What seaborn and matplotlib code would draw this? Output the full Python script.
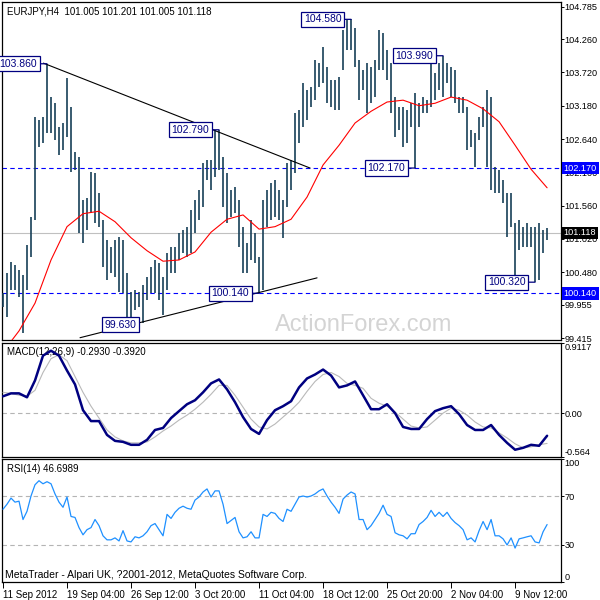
import numpy as np
import pandas as pd
import matplotlib
matplotlib.use("Agg")
import matplotlib.pyplot as plt
import seaborn as sns

# ---------------- data ----------------
highs = [
    100.15, 100.47, 100.65, 100.60, 100.52, 100.44, 100.92, 101.38, 103.00, 102.95,
    103.00, 103.86, 103.32, 103.23, 102.84, 102.90, 103.63, 103.16, 102.43, 102.35,
    101.65, 101.69, 102.11, 102.09, 101.77, 101.33, 101.00, 100.89, 101.00, 101.05,
    101.00, 100.47, 100.16, 100.19, 100.16, 100.28, 100.41, 100.57, 100.68, 100.63,
    100.41, 100.79, 100.89, 100.89, 101.12, 101.17, 101.22, 101.49, 101.65, 101.82,
    102.25, 102.30, 102.30, 102.79, 102.78, 102.35, 102.09, 101.82, 101.86, 101.65,
    101.22, 100.96, 101.33, 101.12, 100.73, 101.65, 101.82, 101.93, 101.98, 101.82,
    101.65, 102.25, 102.30, 103.06, 103.11, 103.55, 103.44, 103.48, 103.92, 103.87,
    104.13, 103.81, 103.60, 103.60, 103.65, 104.41, 104.57, 104.58, 104.44, 103.92,
    103.76, 103.87, 103.81, 103.92, 104.41, 104.36, 104.08, 103.87, 103.32, 103.16,
    103.16, 103.11, 103.23, 103.39, 103.23, 103.32, 103.27, 103.96, 103.71, 103.87,
    103.99, 103.87, 103.81, 103.76, 103.32, 103.32, 103.16, 102.79, 102.74, 103.00,
    103.16, 103.44, 103.32, 102.19, 102.14, 101.98, 101.77, 101.77, 101.28, 101.33,
    101.22, 101.28, 101.22, 101.22, 101.28, 101.17, 101.201]
lows = [
    99.92, 99.76, 100.19, 100.19, 100.08, 99.50, 100.19, 100.73, 101.33, 102.51,
    102.58, 102.74, 102.74, 102.63, 102.38, 102.46, 102.67, 102.11, 102.14, 101.12,
    100.96, 101.17, 101.44, 101.28, 101.22, 100.57, 100.36, 100.47, 100.41, 100.16,
    100.15, 99.76, 99.63, 99.87, 99.92, 99.66, 100.03, 100.15, 100.15, 100.03,
    99.79, 100.19, 100.47, 100.47, 100.68, 100.79, 100.73, 100.79, 101.12, 101.33,
    101.54, 101.98, 101.82, 102.03, 102.14, 101.54, 101.28, 101.38, 101.44, 100.89,
    100.47, 100.47, 100.68, 100.63, 100.14, 100.19, 101.22, 101.33, 101.38, 101.33,
    101.04, 101.54, 101.82, 102.09, 102.58, 102.84, 102.95, 103.16, 103.27, 103.48,
    103.55, 103.23, 103.16, 103.11, 103.11, 103.76, 104.08, 104.08, 103.81, 103.27,
    103.44, 103.06, 103.23, 103.32, 103.76, 103.76, 103.60, 103.06, 102.67, 102.79,
    102.51, 102.58, 102.84, 102.17, 102.84, 103.06, 103.06, 103.16, 103.27, 103.44,
    103.32, 103.55, 103.32, 103.23, 103.06, 103.06, 102.46, 102.51, 102.19, 102.63,
    102.84, 102.19, 101.82, 101.77, 101.77, 101.60, 101.05, 101.22, 100.40, 100.84,
    100.89, 100.89, 100.89, 100.32, 100.36, 100.79, 101.005]

# 30-period moving average, read every 4th bar
ma_vals = [99.19, 99.53, 99.98, 100.68, 101.22, 101.43, 101.47, 101.30, 101.04, 100.83,
           100.66, 100.68, 100.81, 101.13, 101.34, 101.41, 101.18, 101.22, 101.34, 101.70,
           102.22, 102.54, 102.90, 103.09, 103.24, 103.27, 103.18, 103.22, 103.32, 103.27,
           103.13, 102.92, 102.54, 102.15, 101.85]

# MACD main & signal, read every 2nd bar
macd_main = [0.218, 0.256, 0.256, 0.205, 0.423, 0.744, 0.808, 0.744, 0.551, 0.372,
             0.038, -0.103, -0.103, -0.282, -0.359, -0.372, -0.410, -0.410, -0.346, -0.218,
             -0.192, -0.064, 0.026, 0.115, 0.167, 0.269, 0.385, 0.436, 0.308, 0.141,
             -0.051, -0.205, -0.269, -0.090, 0.038, 0.090, 0.154, 0.333, 0.449, 0.500,
             0.564, 0.487, 0.333, 0.359, 0.410, 0.231, 0.051, 0.051, 0.115, 0.000,
             -0.179, -0.205, -0.205, -0.077, 0.026, 0.064, 0.090, -0.013, -0.154, -0.218,
             -0.218, -0.154, -0.282, -0.385, -0.474, -0.449, -0.410, -0.423, -0.293]
macd_signal = [0.269, 0.256, 0.231, 0.218, 0.295, 0.526, 0.705, 0.756, 0.679, 0.474,
               0.269, 0.090, -0.064, -0.218, -0.308, -0.359, -0.385, -0.385, -0.372, -0.308,
               -0.231, -0.167, -0.090, -0.026, 0.051, 0.141, 0.244, 0.359, 0.359, 0.231,
               0.077, -0.077, -0.179, -0.205, -0.141, -0.051, 0.038, 0.141, 0.282, 0.410,
               0.500, 0.526, 0.474, 0.385, 0.359, 0.321, 0.192, 0.128, 0.090, 0.013,
               -0.077, -0.167, -0.192, -0.179, -0.090, 0.000, 0.064, 0.038, -0.026, -0.115,
               -0.179, -0.192, -0.256, -0.321, -0.397, -0.449, -0.436, -0.410, -0.392]

rsi_vals = [59.2, 63.3, 68.3, 65.0, 65.8, 50.8, 57.5, 70.0, 79.2, 82.5,
            80.0, 81.7, 80.0, 71.7, 65.0, 60.8, 69.2, 53.3, 52.5, 44.2,
            38.3, 42.5, 44.2, 50.8, 45.8, 37.5, 34.2, 34.2, 35.8, 33.3,
            41.7, 33.3, 32.5, 36.7, 35.8, 37.5, 40.8, 45.8, 47.5, 42.5,
            37.5, 55.0, 51.7, 56.7, 60.0, 61.7, 60.0, 59.2, 66.7, 69.2,
            73.3, 75.8, 69.2, 74.2, 74.2, 63.3, 47.5, 50.0, 52.5, 40.8,
            35.8, 36.7, 40.8, 35.8, 35.8, 55.0, 53.3, 56.7, 55.8, 51.7,
            49.2, 59.2, 57.5, 63.3, 69.2, 70.0, 69.2, 70.0, 71.7, 74.2,
            75.8, 70.0, 65.0, 60.8, 55.8, 67.5, 70.8, 73.3, 71.7, 50.8,
            50.8, 42.5, 45.8, 50.8, 55.8, 62.5, 55.0, 53.3, 40.0, 38.3,
            37.5, 35.0, 39.2, 39.2, 46.7, 49.2, 52.5, 58.3, 53.3, 56.7,
            53.3, 56.7, 51.7, 48.3, 45.8, 42.5, 34.2, 35.8, 32.5, 41.7,
            49.2, 42.5, 50.8, 37.5, 37.5, 35.0, 30.0, 35.8, 27.5, 35.0,
            35.8, 36.7, 37.5, 32.5, 31.7, 40.8, 46.7]

time_labels = ["11 Sep 2012", "19 Sep 04:00", "26 Sep 12:00", "3 Oct 20:00",
               "11 Oct 04:00", "18 Oct 12:00", "25 Oct 20:00", "2 Nov 04:00", "9 Nov 12:00"]
price_ticks = [104.785, 104.260, 103.720, 103.180, 102.640, 102.100,
               101.560, 101.020, 100.480, 99.955, 99.415]
support_resistance = [102.170, 100.140]
last_price = 101.118
# annotated swing points: (label, bar index, price)
swing_labels = [("103.860", 11, 103.86), ("102.790", 54, 102.79), ("104.580", 87, 104.58),
                ("103.990", 110, 103.99), ("102.170", 103, 102.17), ("100.140", 64, 100.14),
                ("100.320", 133, 100.32)]
low_label = ("99.630", 32, 99.63)
upper_trend_idx, upper_trend_px = [10.1, 76.75], [103.87, 102.17]
lower_trend_idx, lower_trend_px = [19.25, 78.5], [99.42, 100.39]

n = len(highs)
bar_idx = np.arange(n)
ma_idx = np.arange(0, n, 4)
macd_idx = np.arange(0, n, 2)
tick_idx = np.arange(0, 16 * len(time_labels), 16)

# ---------------- style ----------------
sns.set_style("white")
plt.rcParams["font.family"] = ["Liberation Sans", "DejaVu Sans"]
FS = 7
YFS = 6.6
plt.rcParams["font.size"] = FS

W, H = 600.0, 600.0
fig = plt.figure(figsize=(6, 6), dpi=100)
left, width = 2 / W, 558.7 / W
ax1 = fig.add_axes([left, 1 - 340 / H, width, 338 / H])
ax2 = fig.add_axes([left, 1 - 456.7 / H, width, 114 / H])
ax3 = fig.add_axes([left, 1 - 581.7 / H, width, 122.4 / H])

XMIN, XMAX = -0.25, 139.4
for ax in (ax1, ax2, ax3):
    ax.set_xlim(XMIN, XMAX)
    for s in ax.spines.values():
        s.set_color("black")
        s.set_linewidth(0.9)
    ax.yaxis.tick_right()
    ax.tick_params(axis="y", direction="out", length=2, width=0.7, pad=0.8,
                   labelsize=YFS, colors="black", right=True, left=False)
    ax.set_facecolor("white")

NAVY = "#000080"
BAR = "#173f58"
BLUE = "#0000ff"

# ---------------- price panel ----------------
ax1.set_ylim(99.383, 104.861)
ax1.text(0.4886, 0.044, "ActionForex.com", transform=ax1.transAxes, fontsize=17,
         color="#d4d4d4", va="center", ha="left", zorder=0)
ax1.axhline(last_price, color="#c0c0c0", lw=0.8, zorder=1)
for lvl in support_resistance:
    ax1.axhline(lvl, color=BLUE, lw=0.8, ls=(0, (4, 3)), zorder=1)
ax1.vlines(bar_idx, lows, highs, color=BAR, lw=1.2, zorder=3)
sns.lineplot(x=ma_idx, y=ma_vals, ax=ax1, color="#ff0000", lw=0.8,
             estimator=None, sort=False, zorder=4)
sns.lineplot(x=upper_trend_idx, y=upper_trend_px, ax=ax1, color="black", lw=0.8,
             estimator=None, zorder=4)
sns.lineplot(x=lower_trend_idx, y=lower_trend_px, ax=ax1, color="black", lw=0.8,
             estimator=None, zorder=4)
ax1.set_xticks([])
ax1.set_yticks(price_ticks)
ax1.set_yticklabels([f"{v:.3f}" for v in price_ticks])
ax1.set_xlabel("")
ax1.set_ylabel("")
ax1.text(0.009, 0.988, "EURJPY,H4  101.005 101.201 101.005 101.118",
         transform=ax1.transAxes, va="top", ha="left", fontsize=FS, color="black")

box = dict(boxstyle="square,pad=0.25", fc="white", ec=NAVY, lw=0.9)
for txt, i, p in swing_labels:
    ax1.annotate(txt, xy=(i, p), xytext=(-7, 0), textcoords="offset points",
                 ha="right", va="center", color=NAVY, fontsize=FS + 0.5, bbox=box,
                 arrowprops=dict(arrowstyle="-", color=NAVY, lw=0.9,
                                 shrinkA=0, shrinkB=0), zorder=6)
ax1.annotate(low_label[0], xy=(low_label[1], low_label[2]), xytext=(4, 0),
             textcoords="offset points", ha="right", va="center", color=NAVY,
             fontsize=FS + 0.5, bbox=box, zorder=6)

# right-axis highlighted labels
for lvl in support_resistance:
    ax1.annotate(f"{lvl:.3f}", xy=(1, lvl), xycoords=("axes fraction", "data"),
                 xytext=(2.2, 0), textcoords="offset points", ha="left", va="center",
                 color="white", fontsize=YFS,
                 bbox=dict(boxstyle="square,pad=0.2", fc=BLUE, ec="none"), zorder=10)
ax1.annotate(f"{last_price:.3f}", xy=(1, last_price), xycoords=("axes fraction", "data"),
             xytext=(2.2, 0), textcoords="offset points", ha="left", va="center",
             color="white", fontsize=YFS,
             bbox=dict(boxstyle="square,pad=0.2", fc="black", ec="none"), zorder=10)

# ---------------- MACD panel ----------------
ax2.set_ylim(-0.564, 0.9117)
ax2.axhline(0, color="#b4b4b4", lw=0.8, ls=(0, (4, 3)), zorder=1)
sns.lineplot(x=macd_idx, y=macd_signal, ax=ax2, color="#b9b9b9", lw=0.8,
             estimator=None, sort=False, zorder=3)
sns.lineplot(x=macd_idx, y=macd_main, ax=ax2, color=NAVY, lw=1.8,
             estimator=None, sort=False, zorder=4)
ax2.set_xticks([])
ax2.set_yticks([0.9117, 0.0, -0.564])
ax2.set_yticklabels(["0.9117", "0.00", "-0.564"])
tl = ax2.get_yticklabels()
tl[0].set_va("top")
tl[2].set_va("bottom")
ax2.text(0.009, 0.962, "MACD(12,26,9) -0.2930 -0.3920", transform=ax2.transAxes,
         va="top", ha="left", fontsize=FS, color="black")
ax2.set_xlabel("")
ax2.set_ylabel("")

# ---------------- RSI panel ----------------
ax3.set_ylim(0, 100)
for lvl in (70, 30):
    ax3.axhline(lvl, color="#b4b4b4", lw=0.8, ls=(0, (4, 3)), zorder=1)
sns.lineplot(x=bar_idx, y=rsi_vals, ax=ax3, color="#1e90ff", lw=0.9,
             estimator=None, sort=False, zorder=3)
ax3.set_yticks([100, 70, 30, 0])
ax3.set_yticklabels(["100", "70", "30", "0"])
tl = ax3.get_yticklabels()
tl[0].set_va("top")
tl[3].set_va("bottom")
ax3.text(0.009, 0.962, "RSI(14) 46.6989", transform=ax3.transAxes,
         va="top", ha="left", fontsize=FS, color="black")
ax3.text(0.005, 0.014, "MetaTrader - Alpari UK, ?2001-2012, MetaQuotes Software Corp.",
         transform=ax3.transAxes, va="bottom", ha="left", fontsize=FS + 0.5, color="black")
ax3.set_xticks(tick_idx)
ax3.set_xticklabels(time_labels, ha="left")
ax3.tick_params(axis="x", direction="out", length=4, width=0.7, pad=2,
                labelsize=FS, colors="black", bottom=True)
ax3.set_xlabel("")
ax3.set_ylabel("")

fig.savefig("out.png", dpi=100, facecolor="white")
